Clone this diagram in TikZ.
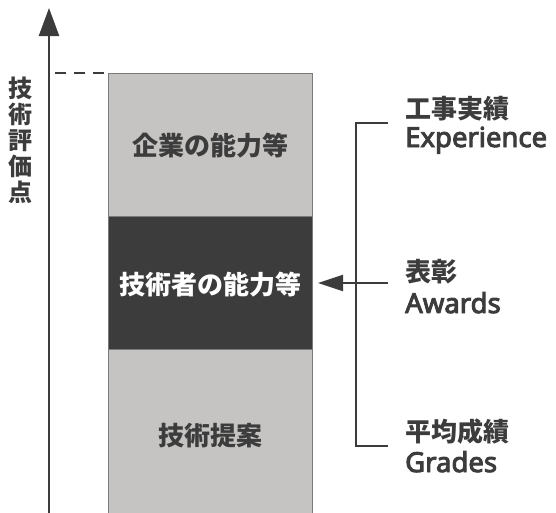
\documentclass[tikz,border=0pt]{standalone}
\usepackage{fontspec}
\setmainfont{Noto Sans}
\newfontfamily\lat{Noto Sans}[FakeBold=3.5]
\newfontfamily\jp{Noto Sans CJK JP}
\usetikzlibrary{arrows.meta}
\definecolor{ink}{HTML}{3C3C3C}
\definecolor{lgray}{HTML}{C5C4C2}
\definecolor{bord}{HTML}{7A7A7A}
\begin{document}
\begin{tikzpicture}[x=1pt,y=-1pt,
  jtext/.style={font=\jp\bfseries\fontsize{26}{28}\selectfont, text=ink, inner sep=0pt},
  etext/.style={font=\lat\fontsize{27.5}{30}\selectfont, text=ink, inner sep=0pt},
  box/.style={draw=bord, line width=0.8pt},
  conn/.style={draw=ink, line width=2pt}]
\useasboundingbox (0,0) rectangle (556,512);
% boxes
\node[box, fill=lgray, minimum width=204pt, minimum height=143pt, anchor=north west, inner sep=0pt] (top) at (108,73) {};
\node[box, fill=ink, minimum width=204pt, minimum height=133pt, anchor=north west, inner sep=0pt] (mid) at (108,216) {};
\node[box, fill=lgray, minimum width=204pt, minimum height=170pt, anchor=north west, inner sep=0pt] (bot) at (108,349) {};
\node[jtext] (t1) at (210,146) {企業の能力等};
\node[jtext, text=white] (t2) at (210,285) {技術者の能力等};
\node[jtext] (t3) at (210,436) {技術提案};
% axis
\coordinate (ab) at (49,520);
\coordinate (at) at (49,8);
\draw[conn, line width=2.5pt, -{Triangle[length=28pt,width=20pt]}] (ab) -- (at);
\coordinate (d0) at (55,73);
\draw[conn, dash pattern=on 11pt off 8pt] (d0) -- (top.north west);
\node[jtext, align=center, font=\jp\bfseries\fontsize{24}{26}\selectfont] (yl) at (21,140) {技\\術\\評\\価\\点};
% bracket
\coordinate (b1) at (388,123);
\coordinate (b1c) at (356,123);
\coordinate (b2) at (388,283);
\coordinate (b2c) at (356,283);
\coordinate (b3) at (388,446);
\coordinate (b3c) at (356,446);
\draw[conn] (b1) -- (b1c) -- (b3c) -- (b3);
\draw[conn] (b2) -- (b2c);
\coordinate (tip) at (318,283);
\draw[conn, -{Triangle[length=25pt,width=16pt]}] (b2c) -- (tip);
% labels
\node[jtext, anchor=west] (l1) at (405,109) {工事実績};
\node[etext, anchor=base west] (e1) at (405,147) {Experience};
\node[jtext, anchor=west] (l2) at (405,272) {表彰};
\node[etext, anchor=base west] (e2) at (405,313) {Awards};
\node[jtext, anchor=west] (l3) at (405,432) {平均成績};
\node[etext, anchor=base west] (e3) at (405,472) {Grades};
\end{tikzpicture}
\end{document}
